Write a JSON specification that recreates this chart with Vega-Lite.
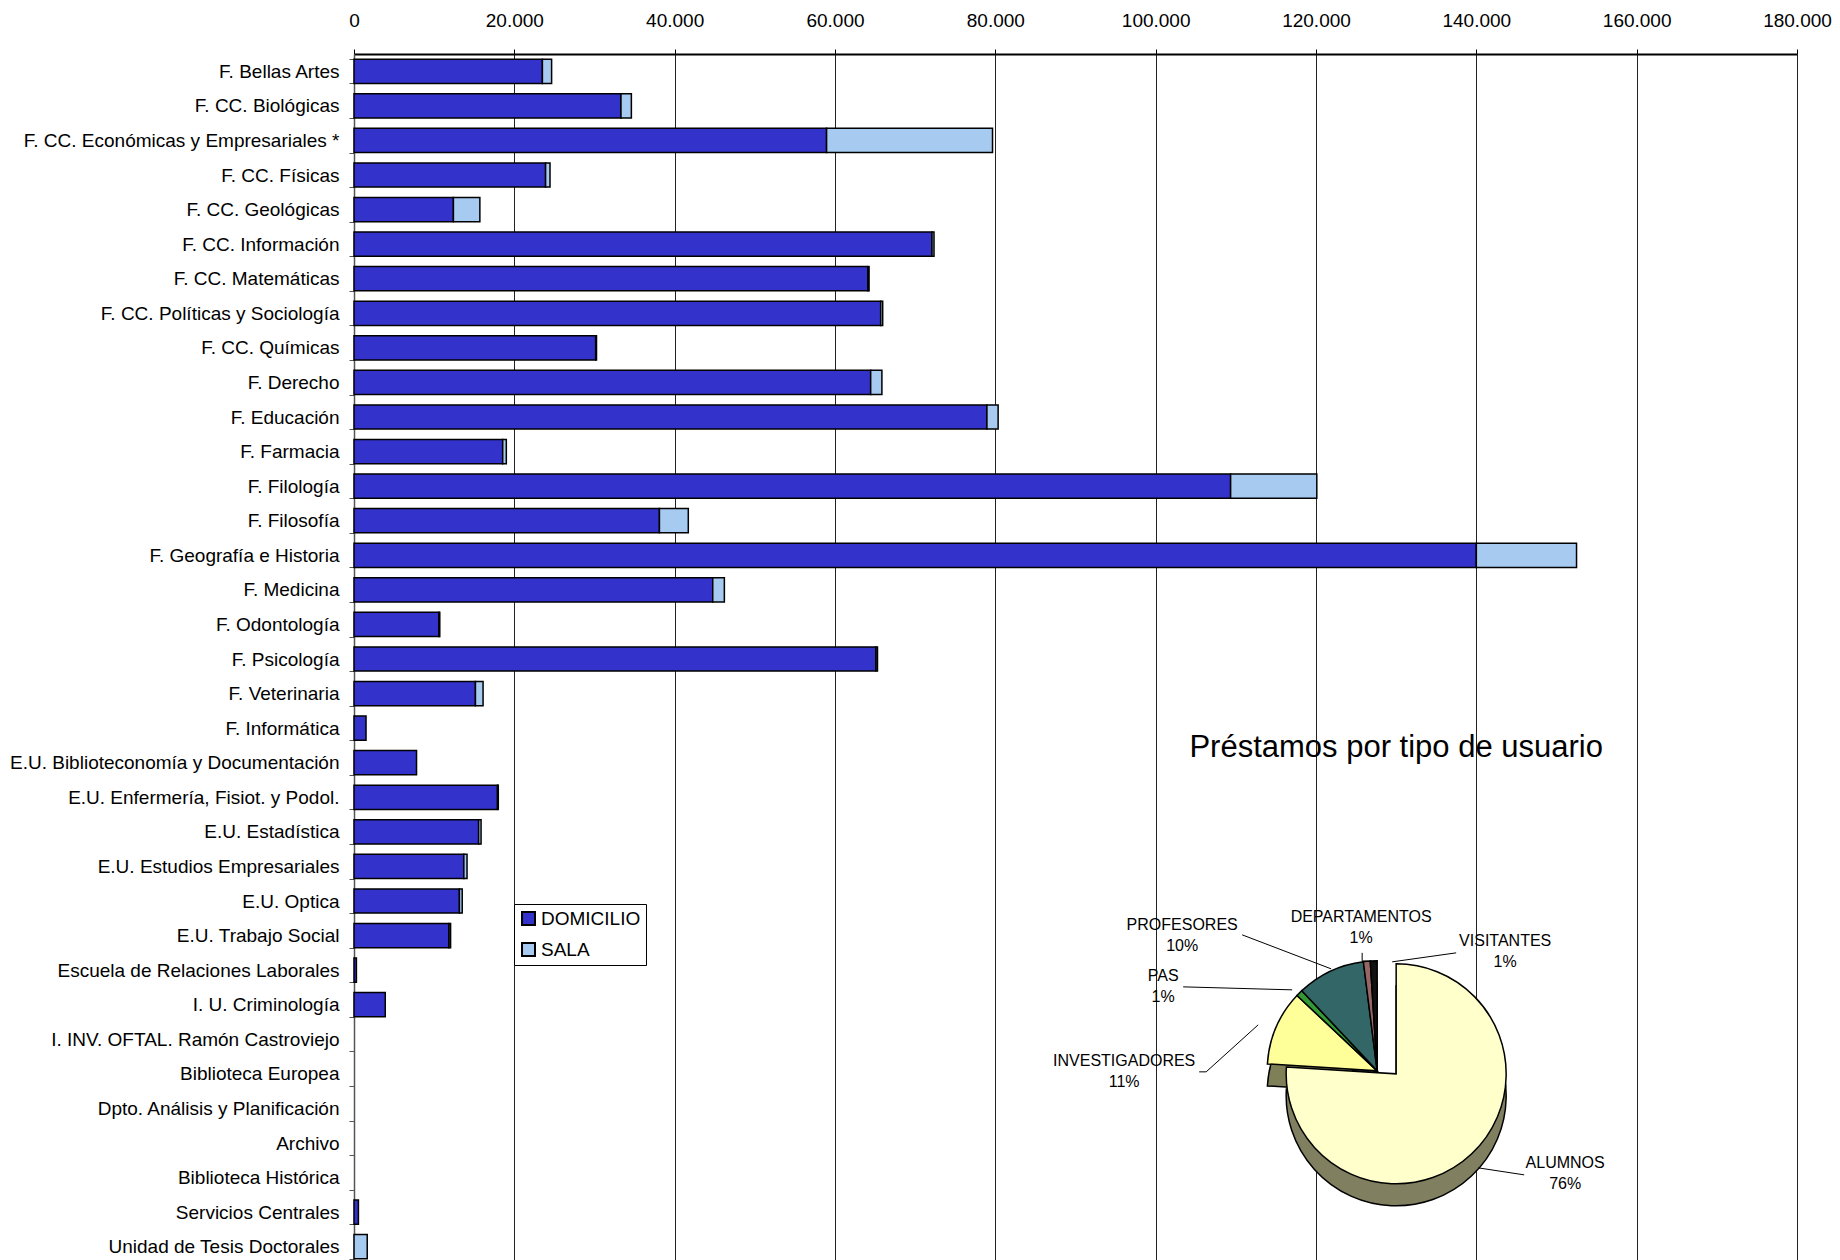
{
  "$schema": "https://vega.github.io/schema/vega-lite/v6.json",
  "width": 1443,
  "height": 1210,
  "padding": {"left": 9, "top": 11, "right": 5, "bottom": 0},
  "background": "white",
  "config": {
    "font": "Liberation Sans",
    "view": {"stroke": null},
    "text": {"font": "Liberation Sans", "color": "black"}
  },
  "datasets": {
    "barras": [
      {"centro": "F. Bellas Artes", "tipo": "DOMICILIO", "prestamos": 23500},
      {"centro": "F. Bellas Artes", "tipo": "SALA", "prestamos": 1150},
      {"centro": "F. CC. Biológicas", "tipo": "DOMICILIO", "prestamos": 33300},
      {"centro": "F. CC. Biológicas", "tipo": "SALA", "prestamos": 1300},
      {"centro": "F. CC. Económicas y Empresariales *", "tipo": "DOMICILIO", "prestamos": 58950},
      {"centro": "F. CC. Económicas y Empresariales *", "tipo": "SALA", "prestamos": 20700},
      {"centro": "F. CC. Físicas", "tipo": "DOMICILIO", "prestamos": 23900},
      {"centro": "F. CC. Físicas", "tipo": "SALA", "prestamos": 550},
      {"centro": "F. CC. Geológicas", "tipo": "DOMICILIO", "prestamos": 12400},
      {"centro": "F. CC. Geológicas", "tipo": "SALA", "prestamos": 3300},
      {"centro": "F. CC. Información", "tipo": "DOMICILIO", "prestamos": 72100},
      {"centro": "F. CC. Información", "tipo": "SALA", "prestamos": 250},
      {"centro": "F. CC. Matemáticas", "tipo": "DOMICILIO", "prestamos": 64100},
      {"centro": "F. CC. Matemáticas", "tipo": "SALA", "prestamos": 150},
      {"centro": "F. CC. Políticas y Sociología", "tipo": "DOMICILIO", "prestamos": 65700},
      {"centro": "F. CC. Políticas y Sociología", "tipo": "SALA", "prestamos": 250},
      {"centro": "F. CC. Químicas", "tipo": "DOMICILIO", "prestamos": 30150},
      {"centro": "F. CC. Químicas", "tipo": "SALA", "prestamos": 100},
      {"centro": "F. Derecho", "tipo": "DOMICILIO", "prestamos": 64450},
      {"centro": "F. Derecho", "tipo": "SALA", "prestamos": 1400},
      {"centro": "F. Educación", "tipo": "DOMICILIO", "prestamos": 78950},
      {"centro": "F. Educación", "tipo": "SALA", "prestamos": 1400},
      {"centro": "F. Farmacia", "tipo": "DOMICILIO", "prestamos": 18550},
      {"centro": "F. Farmacia", "tipo": "SALA", "prestamos": 450},
      {"centro": "F. Filología", "tipo": "DOMICILIO", "prestamos": 109350},
      {"centro": "F. Filología", "tipo": "SALA", "prestamos": 10750},
      {"centro": "F. Filosofía", "tipo": "DOMICILIO", "prestamos": 38100},
      {"centro": "F. Filosofía", "tipo": "SALA", "prestamos": 3600},
      {"centro": "F. Geografía e Historia", "tipo": "DOMICILIO", "prestamos": 140000},
      {"centro": "F. Geografía e Historia", "tipo": "SALA", "prestamos": 12500},
      {"centro": "F. Medicina", "tipo": "DOMICILIO", "prestamos": 44750},
      {"centro": "F. Medicina", "tipo": "SALA", "prestamos": 1450},
      {"centro": "F. Odontología", "tipo": "DOMICILIO", "prestamos": 10600},
      {"centro": "F. Odontología", "tipo": "SALA", "prestamos": 100},
      {"centro": "F. Psicología", "tipo": "DOMICILIO", "prestamos": 65100},
      {"centro": "F. Psicología", "tipo": "SALA", "prestamos": 200},
      {"centro": "F. Veterinaria", "tipo": "DOMICILIO", "prestamos": 15150},
      {"centro": "F. Veterinaria", "tipo": "SALA", "prestamos": 950},
      {"centro": "F. Informática", "tipo": "DOMICILIO", "prestamos": 1500},
      {"centro": "E.U. Biblioteconomía y Documentación", "tipo": "DOMICILIO", "prestamos": 7800},
      {"centro": "E.U. Enfermería, Fisiot. y Podol.", "tipo": "DOMICILIO", "prestamos": 17900},
      {"centro": "E.U. Enfermería, Fisiot. y Podol.", "tipo": "SALA", "prestamos": 100},
      {"centro": "E.U. Estadística", "tipo": "DOMICILIO", "prestamos": 15550},
      {"centro": "E.U. Estadística", "tipo": "SALA", "prestamos": 300},
      {"centro": "E.U. Estudios Empresariales", "tipo": "DOMICILIO", "prestamos": 13700},
      {"centro": "E.U. Estudios Empresariales", "tipo": "SALA", "prestamos": 400},
      {"centro": "E.U. Optica", "tipo": "DOMICILIO", "prestamos": 13150},
      {"centro": "E.U. Optica", "tipo": "SALA", "prestamos": 350},
      {"centro": "E.U. Trabajo Social", "tipo": "DOMICILIO", "prestamos": 11850},
      {"centro": "E.U. Trabajo Social", "tipo": "SALA", "prestamos": 200},
      {"centro": "Escuela de Relaciones Laborales", "tipo": "DOMICILIO", "prestamos": 300},
      {"centro": "I. U. Criminología", "tipo": "DOMICILIO", "prestamos": 3900},
      {"centro": "Servicios Centrales", "tipo": "DOMICILIO", "prestamos": 550},
      {"centro": "Unidad de Tesis Doctorales", "tipo": "SALA", "prestamos": 1650}
    ],
    "pie": [
      {"tipo": "ALUMNOS", "pct": 76, "orden": 1, "etiqueta": "ALUMNOS\n76%"},
      {"tipo": "INVESTIGADORES", "pct": 11, "orden": 2, "etiqueta": "INVESTIGADORES\n11%"},
      {"tipo": "PAS", "pct": 1, "orden": 3, "etiqueta": "PAS\n1%"},
      {"tipo": "PROFESORES", "pct": 10, "orden": 4, "etiqueta": "PROFESORES\n10%"},
      {"tipo": "DEPARTAMENTOS", "pct": 1, "orden": 5, "etiqueta": "DEPARTAMENTOS\n1%"},
      {"tipo": "VISITANTES", "pct": 1, "orden": 6, "etiqueta": "VISITANTES\n1%"}
    ],
    "titulo": [{"texto": "Préstamos por tipo de usuario"}]
  },
  "resolve": {"scale": {"fill": "independent"}},
  "layer": [
    {
      "data": {"name": "barras"},
      "mark": {"type": "bar", "stroke": "black", "strokeWidth": 1.5},
      "encoding": {
        "y": {
          "field": "centro",
          "type": "nominal",
          "scale": {
            "domain": [
              "F. Bellas Artes", "F. CC. Biológicas", "F. CC. Económicas y Empresariales *", "F. CC. Físicas",
              "F. CC. Geológicas", "F. CC. Información", "F. CC. Matemáticas", "F. CC. Políticas y Sociología",
              "F. CC. Químicas", "F. Derecho", "F. Educación", "F. Farmacia", "F. Filología", "F. Filosofía",
              "F. Geografía e Historia", "F. Medicina", "F. Odontología", "F. Psicología", "F. Veterinaria",
              "F. Informática", "E.U. Biblioteconomía y Documentación", "E.U. Enfermería, Fisiot. y Podol.",
              "E.U. Estadística", "E.U. Estudios Empresariales", "E.U. Optica", "E.U. Trabajo Social",
              "Escuela de Relaciones Laborales", "I. U. Criminología", "I. INV. OFTAL. Ramón Castroviejo",
              "Biblioteca Europea", "Dpto. Análisis y Planificación", "Archivo", "Biblioteca Histórica",
              "Servicios Centrales", "Unidad de Tesis Doctorales"
            ],
            "paddingInner": 0.3,
            "paddingOuter": 0.15
          },
          "axis": {
            "title": null,
            "labelFontSize": 19,
            "labelColor": "black",
            "labelPadding": 10,
            "labelLimit": 400,
            "tickSize": 5,
            "tickBand": "extent",
            "tickColor": "#555",
            "domainColor": "#555",
            "domainWidth": 1.5,
            "grid": false
          }
        },
        "x": {
          "field": "prestamos",
          "type": "quantitative",
          "stack": "zero",
          "scale": {"domain": [0, 180000], "nice": false},
          "axis": {
            "orient": "top",
            "title": null,
            "values": [0, 20000, 40000, 60000, 80000, 100000, 120000, 140000, 160000, 180000],
            "labelExpr": "replace(format(datum.value, ',d'), ',', '.')",
            "labelFlush": false,
            "labelFontSize": 19,
            "labelColor": "black",
            "labelPadding": 19,
            "tickSize": 5,
            "tickColor": "black",
            "domainColor": "black",
            "domainWidth": 2,
            "grid": true,
            "gridColor": "#222",
            "gridWidth": 1
          }
        },
        "color": {
          "field": "tipo",
          "type": "nominal",
          "scale": {"domain": ["DOMICILIO", "SALA"], "range": ["#3333CC", "#A6CAF0"]},
          "legend": {
            "orient": "none",
            "legendX": 160,
            "legendY": 850,
            "title": null,
            "symbolType": "square",
            "symbolSize": 169,
            "symbolStrokeColor": "black",
            "symbolStrokeWidth": 2,
            "symbolOpacity": 1,
            "labelFontSize": 19,
            "labelColor": "black",
            "labelOffset": 3,
            "strokeColor": "black",
            "fillColor": "white",
            "padding": 5,
            "rowPadding": 10,
            "cornerRadius": 0
          }
        },
        "order": {"field": "tipo", "sort": "ascending"}
      }
    },
    {
      "data": {"name": "pie"},
      "transform": [
        {"stack": "pct", "groupby": [], "sort": [{"field": "orden", "order": "ascending"}], "as": ["t0", "t1"]},
        {"filter": "datum.tipo != 'ALUMNOS'"}
      ],
      "mark": {"type": "arc", "radius": 110, "stroke": "black", "strokeWidth": 1.5, "xOffset": -19, "yOffset": 19},
      "encoding": {
        "x": {"datum": 130000, "type": "quantitative"},
        "y": {"datum": "Biblioteca Europea", "type": "nominal"},
        "theta": {"field": "t0", "type": "quantitative", "scale": {"domain": [0, 100]}},
        "theta2": {"field": "t1"},
        "fill": {
          "field": "tipo",
          "type": "nominal",
          "scale": {"domain": ["INVESTIGADORES", "PAS", "PROFESORES", "DEPARTAMENTOS", "VISITANTES"], "range": ["#808058", "#1F5F1F", "#1F4040", "#5C3D3D", "#000000"]},
          "legend": null
        }
      }
    },
    {
      "data": {"name": "pie"},
      "transform": [
        {"stack": "pct", "groupby": [], "sort": [{"field": "orden", "order": "ascending"}], "as": ["t0", "t1"]},
        {"filter": "datum.tipo != 'ALUMNOS'"}
      ],
      "mark": {"type": "arc", "radius": 110, "stroke": "black", "strokeWidth": 1.5, "xOffset": -19, "yOffset": -3},
      "encoding": {
        "x": {"datum": 130000, "type": "quantitative"},
        "y": {"datum": "Biblioteca Europea", "type": "nominal"},
        "theta": {"field": "t0", "type": "quantitative", "scale": {"domain": [0, 100]}},
        "theta2": {"field": "t1"},
        "fill": {
          "field": "tipo",
          "type": "nominal",
          "scale": {"domain": ["INVESTIGADORES", "PAS", "PROFESORES", "DEPARTAMENTOS", "VISITANTES"], "range": ["#FFFF99", "#339933", "#336666", "#996666", "#111111"]},
          "legend": null
        }
      }
    },
    {
      "data": {"name": "pie"},
      "transform": [
        {"stack": "pct", "groupby": [], "sort": [{"field": "orden", "order": "ascending"}], "as": ["t0", "t1"]},
        {"filter": "datum.tipo == 'ALUMNOS'"}
      ],
      "mark": {"type": "arc", "radius": 110, "stroke": "black", "strokeWidth": 1.5, "fill": "#808060", "yOffset": 22},
      "encoding": {
        "x": {"datum": 130000, "type": "quantitative"},
        "y": {"datum": "Biblioteca Europea", "type": "nominal"},
        "theta": {"field": "t0", "type": "quantitative", "scale": {"domain": [0, 100]}},
        "theta2": {"field": "t1"}
      }
    },
    {
      "data": {"name": "pie"},
      "transform": [
        {"stack": "pct", "groupby": [], "sort": [{"field": "orden", "order": "ascending"}], "as": ["t0", "t1"]},
        {"filter": "datum.tipo == 'ALUMNOS'"}
      ],
      "mark": {"type": "arc", "radius": 110, "stroke": "black", "strokeWidth": 1.5, "fill": "#FFFFCC"},
      "encoding": {
        "x": {"datum": 130000, "type": "quantitative"},
        "y": {"datum": "Biblioteca Europea", "type": "nominal"},
        "theta": {"field": "t0", "type": "quantitative", "scale": {"domain": [0, 100]}},
        "theta2": {"field": "t1"}
      }
    },
    {
      "data": {"name": "titulo"},
      "mark": {"type": "rule", "stroke": "black", "strokeWidth": 1, "xOffset": -154, "yOffset": -139, "x2Offset": -65, "y2Offset": -105},
      "encoding": {"x": {"datum": 130000, "type": "quantitative"}, "x2": {"datum": 130000}, "y": {"datum": "Biblioteca Europea", "type": "nominal"}, "y2": {"datum": "Biblioteca Europea"}}
    },
    {
      "data": {"name": "titulo"},
      "mark": {"type": "rule", "stroke": "black", "strokeWidth": 1, "xOffset": -213, "yOffset": -87, "x2Offset": -104, "y2Offset": -84},
      "encoding": {"x": {"datum": 130000, "type": "quantitative"}, "x2": {"datum": 130000}, "y": {"datum": "Biblioteca Europea", "type": "nominal"}, "y2": {"datum": "Biblioteca Europea"}}
    },
    {
      "data": {"name": "titulo"},
      "mark": {"type": "rule", "stroke": "black", "strokeWidth": 1, "xOffset": -197, "yOffset": -2, "x2Offset": -190, "y2Offset": -2},
      "encoding": {"x": {"datum": 130000, "type": "quantitative"}, "x2": {"datum": 130000}, "y": {"datum": "Biblioteca Europea", "type": "nominal"}, "y2": {"datum": "Biblioteca Europea"}}
    },
    {
      "data": {"name": "titulo"},
      "mark": {"type": "rule", "stroke": "black", "strokeWidth": 1, "xOffset": -190, "yOffset": -2, "x2Offset": -138, "y2Offset": -49},
      "encoding": {"x": {"datum": 130000, "type": "quantitative"}, "x2": {"datum": 130000}, "y": {"datum": "Biblioteca Europea", "type": "nominal"}, "y2": {"datum": "Biblioteca Europea"}}
    },
    {
      "data": {"name": "titulo"},
      "mark": {"type": "rule", "stroke": "black", "strokeWidth": 1, "xOffset": -34, "yOffset": -121, "x2Offset": -34, "y2Offset": -113},
      "encoding": {"x": {"datum": 130000, "type": "quantitative"}, "x2": {"datum": 130000}, "y": {"datum": "Biblioteca Europea", "type": "nominal"}, "y2": {"datum": "Biblioteca Europea"}}
    },
    {
      "data": {"name": "titulo"},
      "mark": {"type": "rule", "stroke": "black", "strokeWidth": 1, "xOffset": -34, "yOffset": -113, "x2Offset": -20, "y2Offset": -112},
      "encoding": {"x": {"datum": 130000, "type": "quantitative"}, "x2": {"datum": 130000}, "y": {"datum": "Biblioteca Europea", "type": "nominal"}, "y2": {"datum": "Biblioteca Europea"}}
    },
    {
      "data": {"name": "titulo"},
      "mark": {"type": "rule", "stroke": "black", "strokeWidth": 1, "xOffset": 60, "yOffset": -121, "x2Offset": -4, "y2Offset": -112},
      "encoding": {"x": {"datum": 130000, "type": "quantitative"}, "x2": {"datum": 130000}, "y": {"datum": "Biblioteca Europea", "type": "nominal"}, "y2": {"datum": "Biblioteca Europea"}}
    },
    {
      "data": {"name": "titulo"},
      "mark": {"type": "rule", "stroke": "black", "strokeWidth": 1, "xOffset": 128, "yOffset": 101, "x2Offset": 82, "y2Offset": 94},
      "encoding": {"x": {"datum": 130000, "type": "quantitative"}, "x2": {"datum": 130000}, "y": {"datum": "Biblioteca Europea", "type": "nominal"}, "y2": {"datum": "Biblioteca Europea"}}
    },
    {
      "data": {"name": "pie"},
      "transform": [{"filter": "datum.tipo == 'ALUMNOS'"}],
      "mark": {"type": "text", "fontSize": 16, "lineBreak": "\n", "lineHeight": 21, "baseline": "middle", "align": "center", "dx": 169, "dy": 89.5},
      "encoding": {"x": {"datum": 130000, "type": "quantitative"}, "y": {"datum": "Biblioteca Europea", "type": "nominal"}, "text": {"field": "etiqueta"}}
    },
    {
      "data": {"name": "pie"},
      "transform": [{"filter": "datum.tipo == 'INVESTIGADORES'"}],
      "mark": {"type": "text", "fontSize": 16, "lineBreak": "\n", "lineHeight": 21, "baseline": "middle", "align": "center", "dx": -272, "dy": -12.5},
      "encoding": {"x": {"datum": 130000, "type": "quantitative"}, "y": {"datum": "Biblioteca Europea", "type": "nominal"}, "text": {"field": "etiqueta"}}
    },
    {
      "data": {"name": "pie"},
      "transform": [{"filter": "datum.tipo == 'PAS'"}],
      "mark": {"type": "text", "fontSize": 16, "lineBreak": "\n", "lineHeight": 21, "baseline": "middle", "align": "center", "dx": -233, "dy": -97.5},
      "encoding": {"x": {"datum": 130000, "type": "quantitative"}, "y": {"datum": "Biblioteca Europea", "type": "nominal"}, "text": {"field": "etiqueta"}}
    },
    {
      "data": {"name": "pie"},
      "transform": [{"filter": "datum.tipo == 'PROFESORES'"}],
      "mark": {"type": "text", "fontSize": 16, "lineBreak": "\n", "lineHeight": 21, "baseline": "middle", "align": "center", "dx": -214, "dy": -148.5},
      "encoding": {"x": {"datum": 130000, "type": "quantitative"}, "y": {"datum": "Biblioteca Europea", "type": "nominal"}, "text": {"field": "etiqueta"}}
    },
    {
      "data": {"name": "pie"},
      "transform": [{"filter": "datum.tipo == 'DEPARTAMENTOS'"}],
      "mark": {"type": "text", "fontSize": 16, "lineBreak": "\n", "lineHeight": 21, "baseline": "middle", "align": "center", "dx": -35, "dy": -156.5},
      "encoding": {"x": {"datum": 130000, "type": "quantitative"}, "y": {"datum": "Biblioteca Europea", "type": "nominal"}, "text": {"field": "etiqueta"}}
    },
    {
      "data": {"name": "pie"},
      "transform": [{"filter": "datum.tipo == 'VISITANTES'"}],
      "mark": {"type": "text", "fontSize": 16, "lineBreak": "\n", "lineHeight": 21, "baseline": "middle", "align": "center", "dx": 109, "dy": -132.5},
      "encoding": {"x": {"datum": 130000, "type": "quantitative"}, "y": {"datum": "Biblioteca Europea", "type": "nominal"}, "text": {"field": "etiqueta"}}
    },
    {
      "data": {"name": "titulo"},
      "mark": {"type": "text", "fontSize": 31, "baseline": "middle", "align": "center", "dy": -15},
      "encoding": {"x": {"datum": 130000, "type": "quantitative"}, "y": {"datum": "E.U. Biblioteconomía y Documentación", "type": "nominal"}, "text": {"field": "texto"}}
    }
  ]
}
